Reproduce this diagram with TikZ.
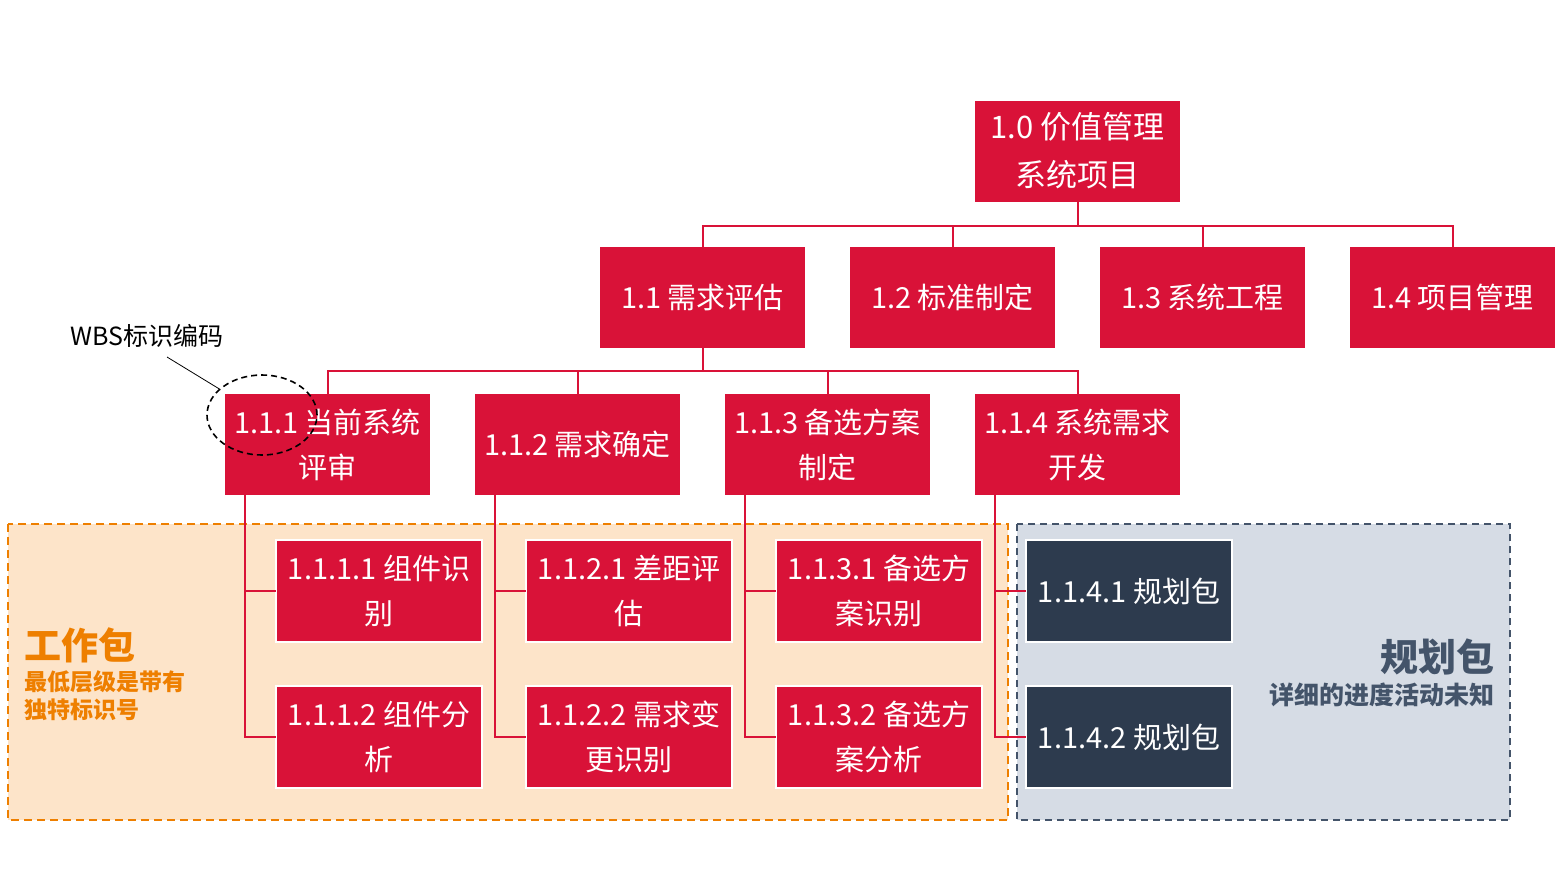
\documentclass[tikz,border=0pt]{standalone}
\usepackage{fontspec}
\setmainfont{Noto Sans CJK SC}
\usetikzlibrary{positioning,shapes.geometric}
\definecolor{wbsred}{HTML}{D91238}
\definecolor{plannavy}{HTML}{2D3B4E}
\definecolor{workorange}{HTML}{EE7F00}
\definecolor{workfill}{HTML}{FDE4C9}
\definecolor{planfill}{HTML}{D6DCE5}
\definecolor{plangray}{HTML}{44546A}
\tikzset{
  wbsbox/.style={rectangle, fill=wbsred, text=white, align=center, minimum width=205pt, minimum height=101pt, inner sep=0pt, outer sep=0pt, font=\fontsize{29}{45}\selectfont},
  workbox/.style={wbsbox, draw=white, line width=2pt, minimum width=206pt, minimum height=102pt},
  planbox/.style={workbox, fill=plannavy},
  conn/.style={draw=wbsred, line width=2pt},
}
\begin{document}
\begin{tikzpicture}[x=1pt, y=-1pt, node distance=45pt]
      \useasboundingbox (0,0) rectangle (1562,889);

      % package areas
      \draw[workorange, line width=2pt, dash pattern=on 8pt off 5pt, fill=workfill] (8,524) rectangle (1008,820);
      \draw[plangray, line width=2pt, dash pattern=on 7pt off 5pt, fill=planfill] (1017,524) rectangle (1510,820);
      \node[anchor=west, inner sep=0pt, text=workorange, font=\fontsize{37}{40}\bfseries\selectfont] (worktitle) at (24,645) {工作包};
      \node[anchor=base west, inner sep=0pt, align=left, text=workorange, font=\fontsize{23}{28}\bfseries\selectfont] (worknote) at (24,718) {最低层级是带有\\独特标识号};
      \node[anchor=east, inner sep=0pt, text=plangray, font=\fontsize{38}{40}\bfseries\selectfont] (plantitle) at (1495,657) {规划包};
      \node[anchor=east, inner sep=0pt, text=plangray, font=\fontsize{25}{28}\bfseries\selectfont] (plannote) at (1495,695) {详细的进度活动未知};

      % levels 1 to 3
      \node[wbsbox, font=\fontsize{31}{48}\selectfont] (n10) at (1077.5,151) {1.0 价值管理\\系统项目};
      \node[wbsbox] (n11) at (702.5,297.5) {1.1 需求评估};
      \node[wbsbox] (n12) [right=of n11] {1.2 标准制定};
      \node[wbsbox] (n13) [right=of n12] {1.3 系统工程};
      \node[wbsbox] (n14) [right=of n13] {1.4 项目管理};
      \node[wbsbox] (n111) at (327.5,444.5) {1.1.1 当前系统\\评审};
      \node[wbsbox] (n112) [right=of n111] {1.1.2 需求确定};
      \node[wbsbox] (n113) [right=of n112] {1.1.3 备选方案\\制定};
      \node[wbsbox] (n114) [right=of n113] {1.1.4 系统需求\\开发};

      % level 4
      \node[workbox] (n1111) [below=45pt of n111.south west, anchor=north west, xshift=51pt] {1.1.1.1 组件识\\别};
      \node[workbox] (n1112) [below=44pt of n1111] {1.1.1.2 组件分\\析};
      \node[workbox] (n1121) [below=45pt of n112.south west, anchor=north west, xshift=51pt] {1.1.2.1 差距评\\估};
      \node[workbox] (n1122) [below=44pt of n1121] {1.1.2.2 需求变\\更识别};
      \node[workbox] (n1131) [below=45pt of n113.south west, anchor=north west, xshift=51pt] {1.1.3.1 备选方\\案识别};
      \node[workbox] (n1132) [below=44pt of n1131] {1.1.3.2 备选方\\案分析};
      \node[planbox] (n1141) [below=45pt of n114.south west, anchor=north west, xshift=51pt] {1.1.4.1 规划包};
      \node[planbox] (n1142) [below=44pt of n1141] {1.1.4.2 规划包};

      % connectors
      \draw[conn] (n10.south) -- ++(0,24) coordinate (bus1);
      \draw[conn] (bus1) -| (n11.north);
      \draw[conn] (bus1) -| (n12.north);
      \draw[conn] (bus1) -| (n13.north);
      \draw[conn] (bus1) -| (n14.north);
      \draw[conn] (n11.south) -- ++(0,23) coordinate (bus2);
      \draw[conn] (bus2) -| (n111.north);
      \draw[conn] (bus2) -| (n112.north);
      \draw[conn] (bus2) -| (n113.north);
      \draw[conn] (bus2) -| (n114.north);
      \draw[conn] ([xshift=20pt]n111.south west) |- (n1111.west);
      \draw[conn] ([xshift=20pt]n111.south west) |- (n1112.west);
      \draw[conn] ([xshift=20pt]n112.south west) |- (n1121.west);
      \draw[conn] ([xshift=20pt]n112.south west) |- (n1122.west);
      \draw[conn] ([xshift=20pt]n113.south west) |- (n1131.west);
      \draw[conn] ([xshift=20pt]n113.south west) |- (n1132.west);
      \draw[conn] ([xshift=20pt]n114.south west) |- (n1141.west);
      \draw[conn] ([xshift=20pt]n114.south west) |- (n1142.west);

      % code callout
      \node[anchor=west, inner sep=0pt, font=\fontsize{25}{28}\selectfont] (wbscode) at (70,336) {WBS标识编码};
      \node[ellipse, draw=black, line width=1.6pt, dash pattern=on 6pt off 4pt, minimum width=110pt, minimum height=80pt] (codering) at (262,415) {};
      \coordinate (codetip) at (167,357);
      \draw[line width=0.8pt] (codetip) -- (codering);
\end{tikzpicture}
\end{document}
